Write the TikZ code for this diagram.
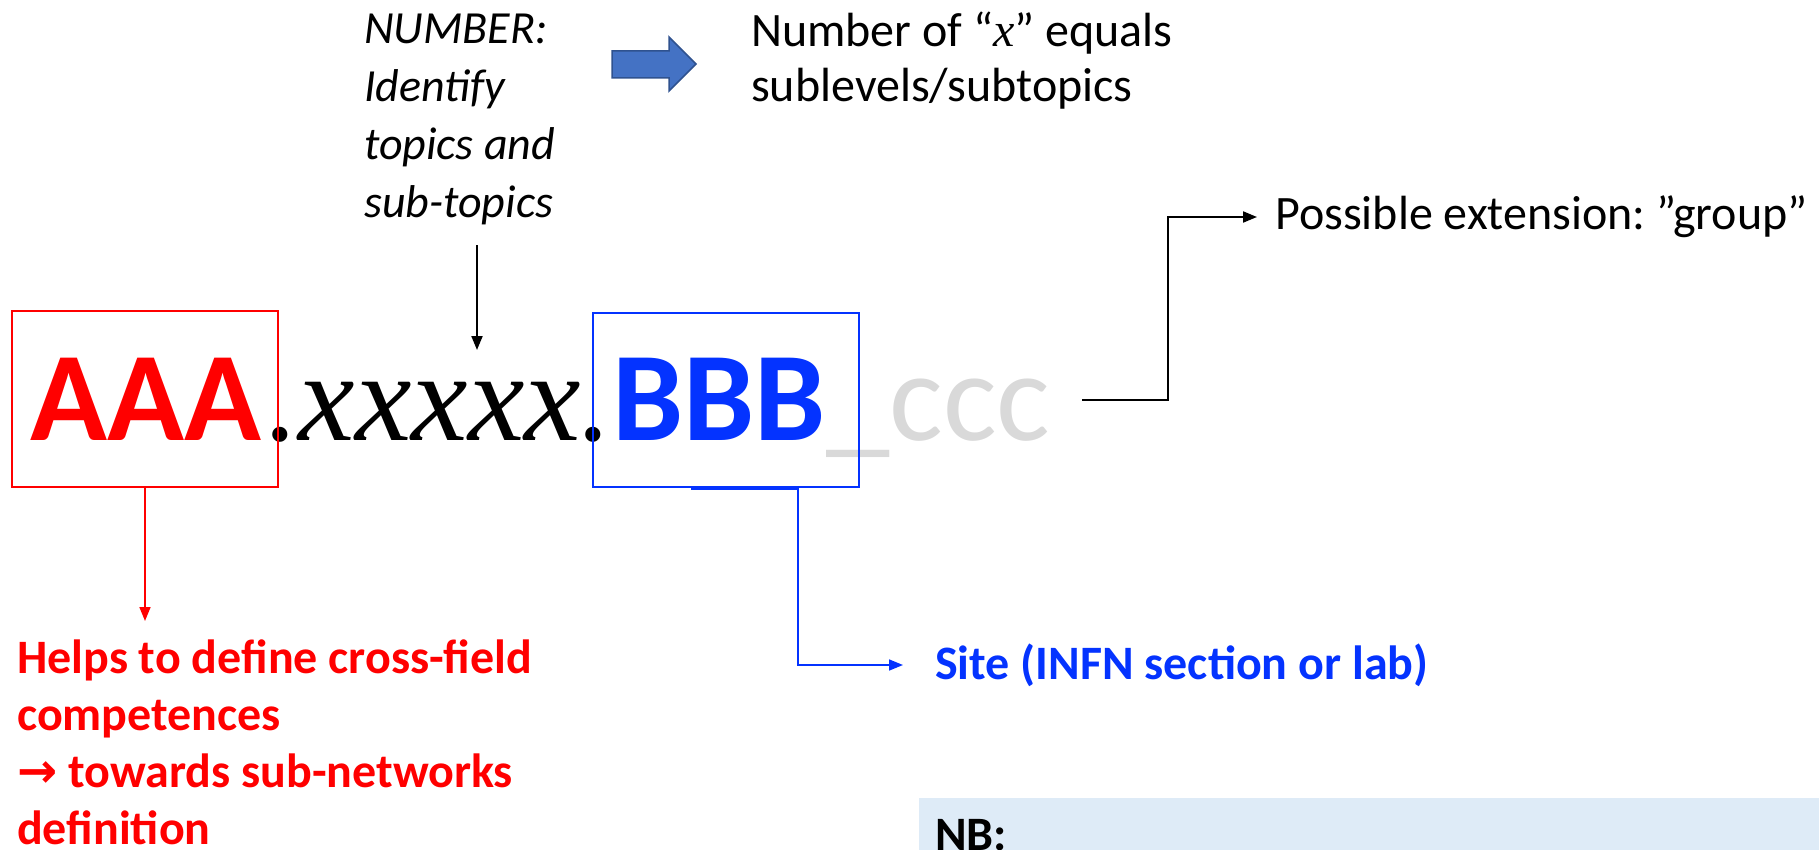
\documentclass[tikz,border=0pt]{standalone}
\usepackage{fontspec}
\setmainfont{Carlito}
\newfontfamily\serifx{Liberation Serif}
\newfontfamily\symfont{DejaVu Sans}
\usetikzlibrary{arrows.meta}
\frenchspacing

\definecolor{aaared}{RGB}{255,0,0}
\definecolor{bbbblue}{RGB}{4,51,255}
\definecolor{cccgray}{RGB}{217,217,217}
\definecolor{arrowfill}{RGB}{68,114,196}
\definecolor{arrowline}{RGB}{47,82,143}
\definecolor{nbfill}{RGB}{222,235,247}

\tikzset{
  body/.style={inner sep=0pt, align=left, font=\fontsize{48}{55}\selectfont},
  bodyit/.style={body, font=\fontsize{46}{58}\selectfont\itshape},
  bodybf/.style={body, font=\fontsize{48}{57}\selectfont\bfseries},
  big/.style={inner sep=0pt, anchor=base west, font=\fontsize{127}{150}\selectfont},
  link/.style={line width=2pt, -{Triangle[length=14pt,width=11pt]}},
}

\begin{document}
\begin{tikzpicture}[x=1pt,y=-1pt]
  \useasboundingbox (0,0) rectangle (1819,850);

  % NB panel
  \fill[nbfill] (919,798) rectangle (1819,850);
  \node[bodybf, anchor=base west] (nb) at (935,850) {NB:};

  % Code line
  \node[big, text=aaared] (aaa) at (30,440) {\bfseries AAA};
  \node[big] (xs) at (267,440) {\serifx\itshape .xxxxx.};
  \node[big, text=bbbblue] (bbb) at (612,440) {\bfseries BBB};
  \node[big, text=cccgray] (ccc) at (bbb.base east) {\_ccc};

  % Boxes
  \node[draw=aaared, line width=2pt, minimum width=266pt, minimum height=176pt] (aaabox) at (145,399) {};
  \node[draw=bbbblue, line width=2.5pt, minimum width=266pt, minimum height=174pt] (bbbbox) at (726,400) {};

  % Labels
  \node[bodyit, anchor=north west] (numtxt) at (364,14) {NUMBER:\\ Identify\\ topics and\\ sub-topics};
  \node[body, anchor=north west] (xcount) at (751,12) {Number of “{\serifx\itshape x}” equals\\ sublevels/subtopics};
  \node[body, anchor=west, inner xsep=18pt] (ext) at (1257,217) {Possible extension: ”group”};
  \node[bodybf, text=aaared, anchor=north west] (help) at (17,640) {Helps to define cross-field\\ competences\\ {\symfont →} towards sub-networks\\ definition};
  \node[bodybf, text=bbbblue, anchor=west, inner xsep=32pt] (site) at (903,665) {Site (INFN section or lab)};

  % Block arrow
  \filldraw[fill=arrowfill, draw=arrowline, line width=1.5pt] (612,51) -- (669,51) -- (669,37) -- (696,64) -- (669,91) -- (669,78) -- (612,78) -- cycle;

  % Edges
  \coordinate (xtop) at (477,350);
  \coordinate (cccend) at (1082,400);
  \coordinate (bbbfoot) at (691,489);
  \draw[link, shorten <=20pt] (numtxt.south -| xtop) -- (xtop);
  \draw[link, draw=aaared, line width=1.6pt, shorten >=19pt] (aaabox.south) -- (help.north -| aaabox.south);
  \draw[link, draw=bbbblue, line width=1.6pt] (bbbfoot) -- ++(107,0) |- (site.west);
  \draw[link] (cccend) -- ++(86,0) |- (ext.west);
\end{tikzpicture}
\end{document}
